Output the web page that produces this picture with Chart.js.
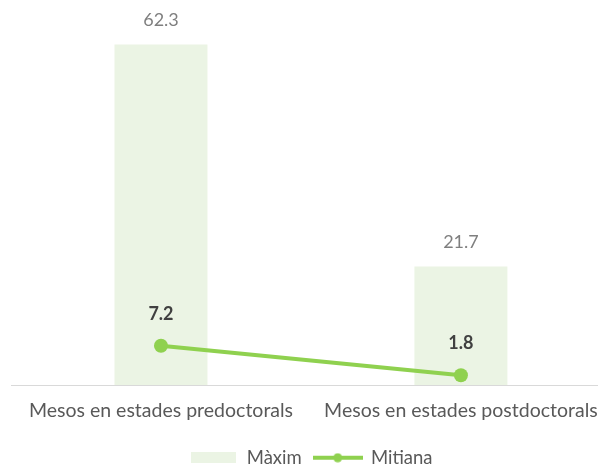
<!DOCTYPE html>
<html><head><meta charset="utf-8">
<script src="https://cdn.jsdelivr.net/npm/chart.js@4/dist/chart.umd.min.js"></script>
<style>html,body{margin:0;padding:0;background:#fff;overflow:hidden;}#wrap{position:relative;width:612px;height:477px;}</style>
</head><body><div id="wrap"><canvas id="c"></canvas></div>
<script>
const categories = ["Mesos en estades predoctorals", "Mesos en estades postdoctorals"];
const maxValues = [62.3, 21.7];
const meanValues = [7.2, 1.8];
const seriesNames = ["Màxim", "Mitiana"];

const barColor = "#ebf4e4";
const lineColor = "#8fd14f";
const FONT = "Lato";

function makeBarSwatch() {
  const c = document.createElement("canvas");
  c.width = 45; c.height = 11;
  const x = c.getContext("2d");
  x.fillStyle = barColor; x.fillRect(0, 0, 45, 11);
  return c;
}
function makeLineSwatch() {
  const c = document.createElement("canvas");
  c.width = 50; c.height = 10;
  const x = c.getContext("2d");
  x.strokeStyle = lineColor; x.lineWidth = 4;
  x.beginPath(); x.moveTo(0, 5); x.lineTo(50, 5); x.stroke();
  x.fillStyle = lineColor; x.beginPath(); x.arc(25, 5, 4.5, 0, Math.PI * 2); x.fill();
  return c;
}

const labelPlugin = {
  id: "valueLabels",
  afterDatasetsDraw(chart) {
    const ctx = chart.ctx;
    chart.data.datasets.forEach((ds, i) => {
      const meta = chart.getDatasetMeta(i);
      meta.data.forEach((el, j) => {
        const v = ds.data[j];
        ctx.save();
        ctx.textAlign = "center";
        ctx.textBaseline = "middle";
        if (ds.type === "bar") {
          ctx.font = "18px " + FONT;
          ctx.fillStyle = "#7f7f7f";
          ctx.fillText(v.toFixed(1), el.x, el.y - 24);
        } else {
          ctx.font = "bold 18px " + FONT;
          ctx.fillStyle = "#404040";
          ctx.fillText(v.toFixed(1), el.x, el.y - 32);
        }
        ctx.restore();
      });
    });
  }
};

new Chart(document.getElementById("c"), {
  data: {
    labels: categories,
    datasets: [
      { type: "line", label: seriesNames[1], data: meanValues, borderColor: lineColor, backgroundColor: lineColor,
        borderWidth: 4, pointRadius: 7, pointHoverRadius: 7, pointBackgroundColor: lineColor, pointBorderWidth: 0, order: 0 },
      { type: "bar", label: seriesNames[0], data: maxValues, backgroundColor: barColor, borderWidth: 0,
        categoryPercentage: 1, barPercentage: 0.31, order: 1 }
    ]
  },
  options: {
    responsive: true, maintainAspectRatio: false, animation: false,
    layout: { autoPadding: false, padding: { left: 11, right: 1, top: 2.5, bottom: 0 } },
    plugins: {
      tooltip: { enabled: false },
      legend: {
        position: "bottom",
        labels: {
          usePointStyle: true,
          pointStyleWidth: 48,
          padding: 12,
          color: "#595959",
          font: { family: FONT, size: 18.5 },
          generateLabels: () => [
            { text: seriesNames[0], pointStyle: makeBarSwatch(), fillStyle: barColor, strokeStyle: barColor, lineWidth: 0, fontColor: "#595959", datasetIndex: 1 },
            { text: seriesNames[1], pointStyle: makeLineSwatch(), fillStyle: lineColor, strokeStyle: lineColor, lineWidth: 0, fontColor: "#595959", datasetIndex: 0 }
          ]
        }
      }
    },
    scales: {
      x: {
        grid: { display: false, drawTicks: false },
        border: { display: true, color: "#d9d9d9", width: 1 },
        ticks: { color: "#595959", font: { family: FONT, size: 19.5 }, padding: 14, maxRotation: 0 }
      },
      y: { display: false, min: 0, max: 70 }
    }
  },
  plugins: [labelPlugin]
});
</script>
</body></html>
